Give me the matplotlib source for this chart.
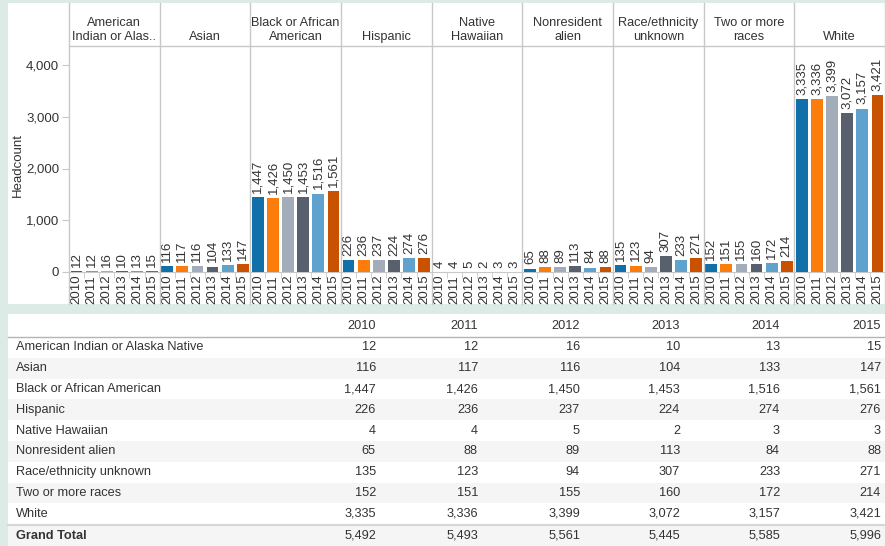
#!/usr/bin/env python3
"""Headcount by race/ethnicity and year: faceted bars plus a summary table."""

import matplotlib.pyplot as plt
from matplotlib.patches import Rectangle
import numpy as np

plt.rcParams['font.family'] = ['Liberation Sans', 'DejaVu Sans']

# Data
years = ["2010", "2011", "2012", "2013", "2014", "2015"]
headers = ["American\nIndian or Alas..", "Asian", "Black or African\nAmerican",
           "Hispanic", "Native\nHawaiian", "Nonresident\nalien",
           "Race/ethnicity\nunknown", "Two or more\nraces", "White"]
row_names = ["American Indian or Alaska Native", "Asian", "Black or African American",
             "Hispanic", "Native Hawaiian", "Nonresident alien",
             "Race/ethnicity unknown", "Two or more races", "White"]

am_indian = [12, 12, 16, 10, 13, 15]
asian = [116, 117, 116, 104, 133, 147]
black = [1447, 1426, 1450, 1453, 1516, 1561]
hispanic = [226, 236, 237, 224, 274, 276]
hawaiian = [4, 4, 5, 2, 3, 3]
nonresident = [65, 88, 89, 113, 84, 88]
unknown = [135, 123, 94, 307, 233, 271]
two_more = [152, 151, 155, 160, 172, 214]
white = [3335, 3336, 3399, 3072, 3157, 3421]
grand_total = [5492, 5493, 5561, 5445, 5585, 5996]

series = [am_indian, asian, black, hispanic, hawaiian, nonresident, unknown, two_more, white]
year_colors = ['#1170AA', '#FC7D0B', '#A3ACB9', '#57606C', '#5FA2CE', '#C85200']

W, H = 885, 546
BG = '#DDEBE7'
TXT = '#333333'
LINE = '#C8C8C8'

fig = plt.figure(figsize=(W / 100, H / 100), dpi=100)
fig.patch.set_facecolor(BG)

# background panels (pixel coordinates)
bg = fig.add_axes([0, 0, 1, 1], zorder=0)
bg.set_xlim(0, W)
bg.set_ylim(H, 0)
bg.axis('off')
bg.add_patch(Rectangle((8, 3), W - 8, 301, facecolor='white', edgecolor='none'))
bg.add_patch(Rectangle((8, 314), W - 8, H - 314, facecolor='white', edgecolor='none'))

# chart geometry
x0, pw = 69, (W - 69) / 9
y_top, y_zero = 46, 272
ymax = (y_zero - y_top) / ((y_zero - 65) / 4000)

x = np.arange(len(years))
for i, vals in enumerate(series):
    ax = fig.add_axes([(x0 + i * pw) / W, 1 - y_zero / H, pw / W, (y_zero - y_top) / H],
                      zorder=2)
    ax.patch.set_alpha(0)
    ax.bar(x, vals, width=0.78, color=year_colors, zorder=3)
    for xi, v in zip(x, vals):
        ax.annotate(f'{v:,}', (xi, v), xytext=(0, 3), textcoords='offset points',
                    rotation=90, ha='center', va='bottom', fontsize=9.5, color=TXT)
    ax.set_xlim(-0.5, 5.5)
    ax.set_ylim(0, ymax)
    for s in ['top', 'right', 'left']:
        ax.spines[s].set_visible(False)
    ax.spines['bottom'].set_color(LINE)
    ax.set_xticks(x)
    ax.set_xticklabels(years, rotation=90, fontsize=9.5, color=TXT)
    ax.set_xticks(x[:-1] + 0.5, minor=True)
    ax.tick_params(axis='x', which='major', length=0, pad=2)
    ax.tick_params(axis='x', which='minor', length=4, color=LINE)
    if i == 0:
        ax.set_yticks([0, 1000, 2000, 3000, 4000])
        ax.set_yticklabels(['0', '1,000', '2,000', '3,000', '4,000'])
        ax.tick_params(axis='y', length=5, color=LINE, labelsize=9.5, labelcolor=TXT, pad=2)
    else:
        ax.set_yticks([])

# overlay: separators, headers, table
ov = fig.add_axes([0, 0, 1, 1], zorder=5)
ov.patch.set_alpha(0)
ov.set_xlim(0, W)
ov.set_ylim(H, 0)
ov.axis('off')

for i in range(10):
    xs = x0 + i * pw
    ov.plot([xs, xs], [3, 304], color=LINE, lw=1)
ov.plot([x0, W], [y_top, y_top], color=LINE, lw=1)
for i, h in enumerate(headers):
    ov.text(x0 + (i + 0.5) * pw, 43, h, ha='center', va='bottom', fontsize=9.2,
            color=TXT, linespacing=1.2)
ov.text(18, 165, 'Headcount', rotation=90, ha='center', va='center', fontsize=9.5, color=TXT)

# table
col_right = [376, 478, 580, 680, 780, 881]
row_h = 20.8
hdr_line = 337
for j, yr in enumerate(years):
    ov.text(col_right[j], 326, yr, ha='right', va='center', fontsize=9.2, color=TXT)
ov.plot([8, W], [hdr_line, hdr_line], color='#B4B4B4', lw=1)

for r, name in enumerate(row_names):
    top = hdr_line + r * row_h
    if r % 2 == 1:
        ov.add_patch(Rectangle((8, top), W - 8, row_h, facecolor='#F5F5F5', edgecolor='none'))
    yc = top + row_h / 2
    ov.text(16, yc, name, ha='left', va='center', fontsize=9.2, color=TXT)
    for j in range(len(years)):
        ov.text(col_right[j], yc, f'{series[r][j]:,}', ha='right', va='center',
                fontsize=9.2, color=TXT)

gt_top = hdr_line + len(row_names) * row_h + 1
ov.add_patch(Rectangle((8, gt_top), W - 8, H - gt_top, facecolor='#F5F5F5', edgecolor='none'))
ov.plot([8, W], [gt_top, gt_top], color='#D6D6D6', lw=1.5)
gy = gt_top + (H - gt_top) / 2
ov.text(16, gy, 'Grand Total', ha='left', va='center', fontsize=9.2, color=TXT,
        fontweight='bold')
for j in range(len(years)):
    ov.text(col_right[j], gy, f'{grand_total[j]:,}', ha='right', va='center',
            fontsize=9.2, color=TXT)

fig.savefig('out.png', dpi=100, facecolor=BG)
